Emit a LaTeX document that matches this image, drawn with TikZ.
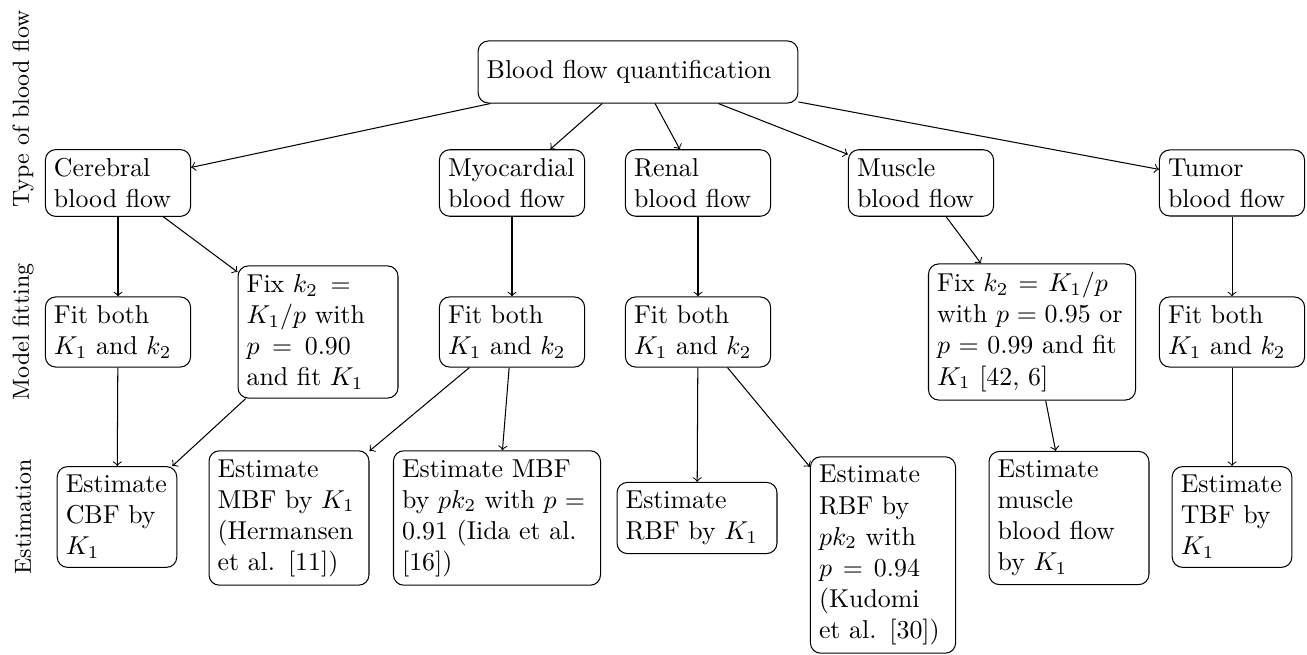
\documentclass[tikz,border=0pt]{standalone}
\tolerance=10000
\hbadness=10000
\tikzset{
  flowbox/.style={draw, rounded corners, align=left, inner sep=3.33pt},
  typebox/.style={flowbox, text width=49.5pt},
  midbox/.style={flowbox, text width=55.2pt},
  widebox/.style={flowbox, text width=73.4pt},
  smallbox/.style={flowbox, text width=39.6pt},
  rowlabel/.style={rotate=90, font=\small},
}
\begin{document}
\begin{tikzpicture}[x=0.3867pt,y=-0.3867pt]
  \useasboundingbox (0,0) rectangle (1307,655);
  % row labels
  \node[rowlabel] (lbltype) at (23,109) {Type of blood flow};
  \node[rowlabel] (lblfit) at (23,332) {Model fitting};
  \node[rowlabel] (lblest) at (23,517) {Estimation};
  % root
  \node[flowbox, text width=117pt, minimum height=24pt] (root) at (638,72) {Blood flow quantification};
  % type of blood flow
  \node[typebox] (cer) at (118,183) {Cerebral\linebreak blood flow};
  \node[typebox] (myo) at (512,183) {Myocardial\linebreak blood flow};
  \node[typebox] (ren) at (698,183) {Renal\linebreak blood flow};
  \node[typebox] (mus) at (921,183) {Muscle\linebreak blood flow};
  \node[typebox] (tum) at (1232,183) {Tumor\linebreak blood flow};
  % model fitting
  \node[typebox] (cerfit) at (118,332) {Fit both\linebreak $K_1$ and $k_2$};
  \node[midbox] (cerfix) at (318,332) {Fix $k_2 =$\linebreak $K_1/p$ with\linebreak $p = 0.90$\linebreak and fit $K_1$};
  \node[typebox] (myofit) at (512,332) {Fit both\linebreak $K_1$ and $k_2$};
  \node[typebox] (renfit) at (698,332) {Fit both\linebreak $K_1$ and $k_2$};
  \node[widebox] (musfix) at (1032,332) {Fix $k_2 = K_1/p$\linebreak with $p = 0.95$ or\linebreak $p = 0.99$ and fit\linebreak $K_1$ [42, 6]};
  \node[typebox] (tumfit) at (1232,332) {Fit both\linebreak $K_1$ and $k_2$};
  % estimation
  \node[smallbox] (cbf) at (117,517) {Estimate\linebreak CBF by\linebreak $K_1$};
  \node[midbox] (mbfk) at (289,518) {Estimate\linebreak MBF by $K_1$\linebreak (Hermansen\linebreak et al. [11])};
  \node[widebox] (mbfp) at (497,518) {Estimate MBF\linebreak by $pk_2$ with $p =$\linebreak 0.91 (Iida et al.\linebreak{}[16])};
  \node[midbox] (rbfk) at (697,518) {Estimate\linebreak RBF by $K_1$};
  \node[typebox] (rbfp) at (883,555) {Estimate\linebreak RBF by\linebreak $pk_2$ with\linebreak $p = 0.94$\linebreak (Kudomi\linebreak et al. [30])};
  \node[midbox] (musest) at (1069,518) {Estimate\linebreak muscle\linebreak blood flow\linebreak by $K_1$};
  \node[smallbox] (tbf) at (1232,517) {Estimate\linebreak TBF by\linebreak $K_1$};
  % connectors
  \foreach \a/\b in {root/cer, root/myo, root/ren, root/mus, root/tum,
      cer/cerfit, cer/cerfix, myo/myofit, ren/renfit, mus/musfix, tum/tumfit,
      cerfit/cbf, cerfix/cbf, myofit/mbfk, myofit/mbfp, renfit/rbfk, renfit/rbfp,
      musfix/musest, tumfit/tbf}
    \draw[->] (\a) -- (\b);
\end{tikzpicture}
\end{document}
